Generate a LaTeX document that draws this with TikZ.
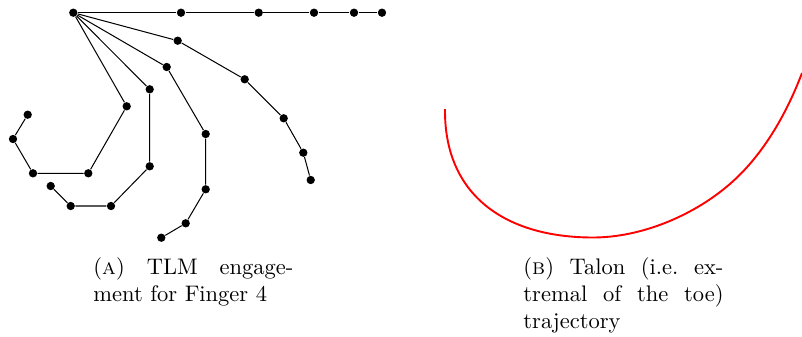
\documentclass[tikz,border=0pt]{standalone}
\usetikzlibrary{positioning}
\tikzset{line width=.45pt,
  every node/.style={font=\normalsize},
  joint/.style={circle,fill=black,inner sep=0pt,minimum size=3.7pt},
  bone/.style={draw=black,line width=.45pt},
  talon/.style={draw=red,line width=.85pt},
  capbox/.style={anchor=north west,inner sep=0pt,text width=88.9pt,align=justify}}

\begin{document}
\begin{tikzpicture}[x=0.4444pt,y=-0.4444pt]
\useasboundingbox(0,0)rectangle(802,336);
% finger 4: joints of the five postures
\node[joint](r)at(73.3,12.7){};
\node[joint](a1)at(181,12.7){};\node[joint](a2)at(258.7,12.7){};\node[joint](a3)at(314,12.7){};
\node[joint](a4)at(354,12.7){};\node[joint](a5)at(382,12.7){};
\node[joint](b1)at(177.7,40.7){};\node[joint](b2)at(244.7,79.3){};\node[joint](b3)at(283.7,118.3){};
\node[joint](b4)at(303.3,152.7){};\node[joint](b5)at(310.7,180){};
\node[joint](c1)at(166.7,67){};\node[joint](c2)at(205.7,134){};\node[joint](c3)at(205.7,189.3){};
\node[joint](c4)at(185.7,223.3){};\node[joint](c5)at(161.3,237.7){};
\node[joint](d1)at(149.7,89.3){};\node[joint](d2)at(149.7,166.3){};\node[joint](d3)at(111,206){};
\node[joint](d4)at(70.7,206){};\node[joint](d5)at(50.7,186){};
\node[joint](e1)at(126.7,106.3){};\node[joint](e2)at(88.3,173.3){};\node[joint](e3)at(33,173.3){};
\node[joint](e4)at(13,139){};\node[joint](e5)at(27.7,114.7){};
\draw[bone](r)--(a1)--(a2)--(a3)--(a4)--(a5);
\draw[bone](r)--(b1)--(b2)--(b3)--(b4)--(b5);
\draw[bone](r)--(c1)--(c2)--(c3)--(c4)--(c5);
\draw[bone](r)--(d1)--(d2)--(d3)--(d4)--(d5);
\draw[bone](r)--(e1)--(e2)--(e3)--(e4)--(e5);
% toe extremal
\draw[talon](445,109)..controls(444,195)and(505,237.5)..(593,237.5)
  ..controls(640,237.5)and(690.7,216.7)..(726.7,186.7)
  ..controls(761.7,157.7)and(786,115)..(802,73);
\node[capbox](capa)at(93,257){(\textsc{a})\ TLM engage-\linebreak ment for Finger 4};
\node[capbox](capb)at(523,257){(\textsc{b})\ Talon (i.e.\ ex-\linebreak tremal of the toe)\linebreak trajectory};
\end{tikzpicture}
\end{document}
